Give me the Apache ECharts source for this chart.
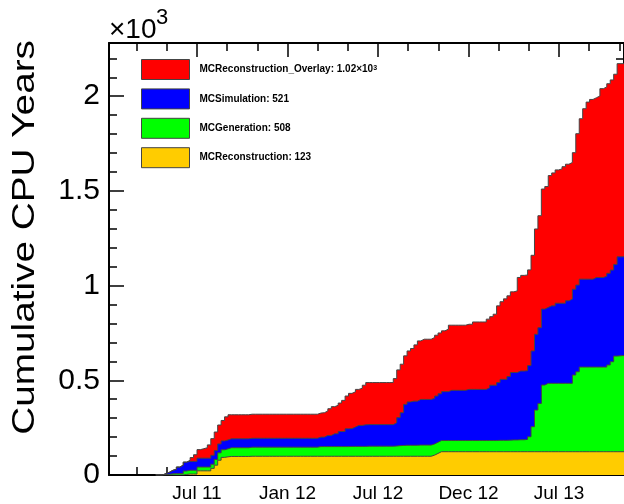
<!DOCTYPE html>
<html>
<head>
<meta charset="utf-8">
<script src="https://cdn.jsdelivr.net/npm/echarts@6/dist/echarts.min.js"></script>
<style>
html, body { margin: 0; padding: 0; background: #fff; }
#chart { width: 624px; height: 504px; }
</style>
</head>
<body>
<div id="chart"></div>
<script>
// Cumulative CPU years per production type, one value per weekly bin.
// Bin index is counted in weeks from the "Jul 11" tick; first bin below:
const firstWeek = -12;

const reconstruction = [
  0, 0, 0, 0, 0, 0, 0, 0, 3, 5,
  5, 5, 22, 22, 22, 22, 35, 52, 78, 93,
  96, 98, 98, 98, 98, 98, 98, 99, 99, 99,
  99, 99, 99, 99, 99, 99, 99, 99, 99, 99,
  99, 99, 99, 99, 99, 99, 99, 99, 99, 99,
  99, 99, 99, 99, 99, 99, 99, 99, 99, 99,
  99, 99, 99, 99, 99, 99, 99, 99, 99, 99,
  99, 99, 99, 99, 99, 99, 99, 99, 99, 99,
  105, 114, 123, 123, 123, 123, 123, 123, 123, 123,
  123, 123, 123, 123, 123, 123, 123, 123, 123, 123,
  123, 123, 123, 123, 123, 123, 123, 123, 123, 123,
  123, 123, 123, 123, 123, 123, 123, 123, 123, 123,
  123, 123, 123, 123, 123, 123, 123, 123, 123, 123,
  123, 123, 123, 123, 123
];

const generation = [
  0, 0, 2, 4, 6, 8, 8, 8, 18, 20,
  20, 20, 20, 20, 20, 20, 22, 30, 39, 40,
  42, 46, 46, 46, 46, 46, 46, 48, 48, 48,
  48, 48, 48, 48, 48, 48, 48, 48, 48, 48,
  48, 48, 48, 48, 48, 48, 48, 51, 51, 51,
  51, 51, 51, 51, 51, 51, 52, 52, 52, 52,
  52, 53, 53, 53, 53, 53, 53, 53, 53, 54,
  56, 57, 58, 58, 58, 58, 59, 59, 59, 59,
  59, 59, 59, 59, 59, 59, 59, 59, 59, 59,
  59, 59, 59, 59, 59, 59, 59, 59, 59, 60,
  60, 60, 61, 62, 62, 63, 63, 65, 79, 132,
  220, 255, 352, 361, 361, 361, 361, 361, 361, 361,
  361, 405, 422, 447, 447, 447, 447, 447, 447, 447,
  447, 458, 475, 505, 508
];

const simulation = [
  0, 0, 6, 11, 19, 22, 34, 44, 47, 47,
  47, 47, 47, 47, 47, 47, 47, 47, 47, 47,
  47, 47, 47, 47, 47, 47, 47, 47, 47, 47,
  47, 47, 47, 47, 47, 47, 47, 47, 47, 47,
  47, 47, 47, 47, 47, 47, 47, 50, 50, 59,
  59, 68, 68, 80, 80, 94, 94, 102, 111, 111,
  114, 114, 114, 114, 114, 114, 114, 114, 114, 123,
  148, 173, 216, 229, 233, 233, 241, 241, 241, 241,
  241, 244, 247, 258, 258, 265, 265, 265, 265, 265,
  270, 270, 270, 270, 270, 270, 279, 292, 292, 305,
  322, 322, 336, 356, 356, 363, 363, 363, 376, 400,
  400, 400, 401, 401, 409, 409, 423, 423, 423, 436,
  445, 453, 458, 464, 464, 464, 464, 473, 473, 473,
  480, 484, 484, 484, 521
];

const overlay = [
  0, 0, 0, 0, 0, 0, 0, 0, 0, 6,
  20, 35, 45, 50, 55, 70, 88, 98, 100, 108,
  122, 127, 127, 127, 127, 127, 127, 127, 127, 127,
  127, 127, 127, 127, 127, 127, 127, 127, 127, 127,
  127, 127, 127, 127, 127, 127, 127, 127, 129, 129,
  141, 143, 150, 150, 164, 173, 186, 186, 190, 196,
  209, 222, 222, 222, 222, 222, 222, 222, 222, 233,
  252, 256, 256, 269, 278, 297, 309, 318, 318, 318,
  321, 321, 321, 321, 330, 344, 344, 344, 344, 344,
  344, 344, 356, 356, 356, 356, 362, 362, 375, 405,
  410, 425, 426, 426, 431, 494, 505, 505, 505, 505,
  556, 591, 634, 638, 688, 702, 704, 709, 721, 721,
  721, 721, 799, 847, 900, 935, 949, 949, 958, 997,
  999, 1001, 1004, 1004, 1020
];

// Stack order, bottom to top
const seriesNames = ['MCReconstruction', 'MCGeneration', 'MCSimulation', 'MCReconstruction_Overlay'];
const seriesValues = [reconstruction, generation, simulation, overlay];
const seriesColors = ['#ffcc00', '#00ff00', '#0000ff', '#ff0000'];

const xTickLabels = ['Jul 11', 'Jan 12', 'Jul 12', 'Dec 12', 'Jul 13'];
const yTickValues = [0, 500, 1000, 1500, 2000];

// Axis geometry (weeks on x, CPU years on y)
const xMin = -25.56, xMax = 124.0;
const yMax = 2281;
const majorStepX = 26.28;
const minorStepX = majorStepX / 3;
const majorX = xTickLabels.map((_, i) => i * majorStepX);
const minorX = [];
for (let i = -2; i <= 14; i++) if (i % 3 !== 0) minorX.push(i * minorStepX);
const minorY = [];
for (let v = 100; v < yMax; v += 100) if (v % 500 !== 0) minorY.push(v);

// Running sums give the upper edge of each layer of the stack
const layerTops = [];
let running = reconstruction.map(() => 0);
seriesValues.forEach(vals => {
  running = running.map((r, j) => r + vals[j]);
  layerTops.push(running);
});

const FONT = 'Liberation Sans';
const tickLine = { color: '#000', width: 1.5 };
const frameLine = { color: '#000', width: 2 };

function xAxisDef(position, ticks, len, withLine, withLabels) {
  return {
    type: 'value', min: xMin, max: xMax, position: position,
    axisLine: { show: withLine, onZero: false, lineStyle: frameLine },
    axisTick: { show: true, inside: true, length: len, customValues: ticks, lineStyle: tickLine },
    axisLabel: withLabels ? {
      customValues: majorX,
      formatter: v => xTickLabels[Math.round(v / majorStepX)],
      fontFamily: FONT, fontSize: 19, color: '#000', margin: 9
    } : { show: false },
    splitLine: { show: false }
  };
}
function yAxisDef(position, ticks, len, withLine, withLabels) {
  return {
    type: 'value', min: 0, max: yMax, position: position,
    axisLine: { show: withLine, onZero: false, lineStyle: frameLine },
    axisTick: { show: true, inside: true, length: len, customValues: ticks, lineStyle: tickLine },
    axisLabel: withLabels ? {
      customValues: yTickValues,
      formatter: v => String(v / 1000),
      fontFamily: FONT, fontSize: 30, color: '#000', margin: 9
    } : { show: false },
    splitLine: { show: false }
  };
}

function legendText(name) {
  const v = seriesValues[seriesNames.indexOf(name)];
  const last = v[v.length - 1];
  if (last >= 1000) return '{n|' + name + ': ' + (last / 1000).toFixed(2) + '×10}{s|3}';
  return name + ': ' + last;
}

// Paint the tallest layer first so each lower layer covers it from the axis up
const drawOrder = [3, 2, 1, 0];

const chart = echarts.init(document.getElementById('chart'), null, { renderer: 'canvas' });
chart.setOption({
  animation: false,
  backgroundColor: '#fff',
  grid: { left: 109, top: 43, width: 519, height: 432, containLabel: false },
  xAxis: [
    xAxisDef('bottom', majorX, 14, true, true),
    xAxisDef('bottom', minorX, 8, false, false),
    xAxisDef('top', majorX, 14, true, false),
    xAxisDef('top', minorX, 8, false, false)
  ],
  yAxis: [
    yAxisDef('left', yTickValues, 15, true, true),
    yAxisDef('left', minorY, 8, false, false),
    yAxisDef('right', yTickValues, 15, true, false),
    yAxisDef('right', minorY, 8, false, false)
  ],
  legend: {
    left: 141, top: 59, orient: 'vertical', padding: 0,
    icon: 'rect', itemWidth: 48, itemHeight: 20, itemGap: 8.4,
    selectedMode: false,
    data: drawOrder.map(i => seriesNames[i]),
    formatter: legendText,
    itemStyle: { borderColor: '#444', borderWidth: 1 },
    textStyle: {
      fontFamily: FONT, fontWeight: 'bold', fontSize: 10, color: '#000',
      padding: [0, 0, 0, 5],
      rich: {
        n: { fontFamily: FONT, fontWeight: 'bold', fontSize: 10, color: '#000' },
        s: { fontFamily: FONT, fontWeight: 'bold', fontSize: 7, color: '#000', verticalAlign: 'top' }
      }
    }
  },
  series: drawOrder.map(i => {
    const tops = layerTops[i];
    const pts = tops.map((v, j) => [firstWeek + j, v]);
    pts.push([xMax, tops[tops.length - 1]]);
    return {
      name: seriesNames[i], type: 'line', step: 'end',
      xAxisIndex: 0, yAxisIndex: 0,
      symbol: 'none', showSymbol: false, silent: true,
      data: pts,
      lineStyle: { color: '#444', width: 1 },
      itemStyle: { color: seriesColors[i] },
      areaStyle: { color: seriesColors[i], opacity: 1, origin: 'start' },
      emphasis: { disabled: true }
    };
  }),
  graphic: [
    {
      type: 'text', x: 25, y: 40, rotation: Math.PI / 2, scaleX: 1.25,
      style: { text: 'Cumulative CPU Years', fontFamily: FONT, fontSize: 31, fill: '#000', align: 'right', verticalAlign: 'middle' }
    },
    {
      type: 'text', x: 109, y: 44,
      style: { text: '×10', fontFamily: FONT, fontSize: 28, fill: '#000', align: 'left', verticalAlign: 'bottom' }
    },
    {
      type: 'text', x: 156, y: 7,
      style: { text: '3', fontFamily: FONT, fontSize: 22, fill: '#000', align: 'left', verticalAlign: 'top' }
    }
  ]
});
</script>
</body>
</html>
